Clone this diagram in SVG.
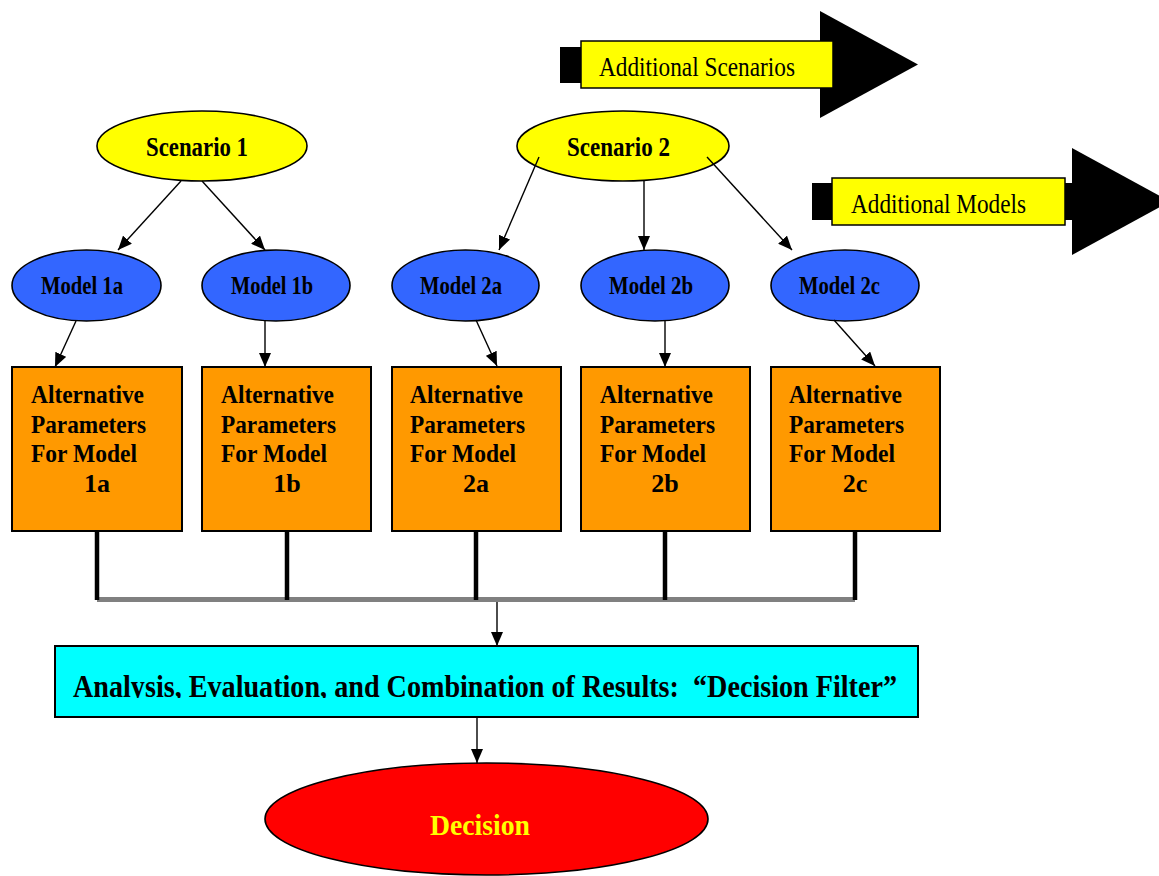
<svg xmlns="http://www.w3.org/2000/svg" width="1159" height="876" viewBox="0 0 1159 876">
  <style>
    .lbl { font-family: "Liberation Serif", "Times New Roman", serif; font-weight: bold; fill: #000; }
    .note { font-family: "Liberation Serif", "Times New Roman", serif; font-size: 27px; fill: #000; }
    .scen { fill: #FFFF00; stroke: #000; stroke-width: 1.6; }
    .model { fill: #3366FF; stroke: #000; stroke-width: 1.6; }
    .param { fill: #FF9900; stroke: #000; stroke-width: 2; }
    .edge { stroke: #000; stroke-width: 1.4; fill: none; marker-end: url(#head); }
    .stem { stroke: #000; stroke-width: 4.5; }
  </style>
  <defs>
    <marker id="head" viewBox="0 0 14 12" refX="14" refY="6" markerWidth="14" markerHeight="12" markerUnits="userSpaceOnUse" orient="auto">
      <path d="M0,0 L14,6 L0,12 z" fill="#000"/>
    </marker>
    <clipPath id="filterClip">
      <rect x="55" y="646" width="863" height="52"/>
    </clipPath>
  </defs>

  <rect width="1159" height="876" fill="#fff"/>

  <!-- block arrow: more scenarios -->
  <g id="more-scenarios">
    <rect x="560" y="47" width="270" height="36" fill="#000"/>
    <polygon points="820,11 918,64.5 820,118" fill="#000"/>
    <rect x="581" y="41" width="252" height="47" fill="#FFFF00" stroke="#000" stroke-width="1.5"/>
    <text class="note" x="599" y="76" textLength="196" lengthAdjust="spacingAndGlyphs">Additional Scenarios</text>
  </g>

  <!-- block arrow: more models -->
  <g id="more-models">
    <rect x="812" y="183" width="270" height="37" fill="#000"/>
    <polygon points="1072,148 1170,201.5 1072,255" fill="#000"/>
    <rect x="832" y="178" width="233" height="47" fill="#FFFF00" stroke="#000" stroke-width="1.5"/>
    <text class="note" x="851" y="213" textLength="175" lengthAdjust="spacingAndGlyphs">Additional Models</text>
  </g>

  <g id="scenario-1">
    <ellipse class="scen" cx="202" cy="146" rx="105" ry="35"/>
    <text class="lbl" x="146" y="156" font-size="27" textLength="102" lengthAdjust="spacingAndGlyphs">Scenario 1</text>
  </g>
  <g id="scenario-2">
    <ellipse class="scen" cx="623" cy="146" rx="106" ry="35"/>
    <text class="lbl" x="567" y="156" font-size="27" textLength="103" lengthAdjust="spacingAndGlyphs">Scenario 2</text>
  </g>

  <g id="model-1a">
    <ellipse class="model" cx="86.5" cy="285.5" rx="74.5" ry="35.5"/>
    <text class="lbl" x="41" y="294" font-size="25" textLength="82" lengthAdjust="spacingAndGlyphs">Model 1a</text>
  </g>
  <g id="model-1b">
    <ellipse class="model" cx="276" cy="285.5" rx="74" ry="35.5"/>
    <text class="lbl" x="231" y="294" font-size="25" textLength="82" lengthAdjust="spacingAndGlyphs">Model 1b</text>
  </g>
  <g id="model-2a">
    <ellipse class="model" cx="465.5" cy="285.5" rx="73.5" ry="35.5"/>
    <text class="lbl" x="420" y="294" font-size="25" textLength="82" lengthAdjust="spacingAndGlyphs">Model 2a</text>
  </g>
  <g id="model-2b">
    <ellipse class="model" cx="655" cy="285.5" rx="74" ry="35.5"/>
    <text class="lbl" x="609" y="294" font-size="25" textLength="84" lengthAdjust="spacingAndGlyphs">Model 2b</text>
  </g>
  <g id="model-2c">
    <ellipse class="model" cx="845" cy="285.5" rx="74" ry="35.5"/>
    <text class="lbl" x="799" y="294" font-size="25" textLength="81" lengthAdjust="spacingAndGlyphs">Model 2c</text>
  </g>

  <g id="params-1a">
    <rect class="param" x="12" y="367" width="170" height="164"/>
    <text class="lbl" font-size="26">
      <tspan x="31" y="403" textLength="113" lengthAdjust="spacingAndGlyphs">Alternative</tspan>
      <tspan x="31" y="432.5" textLength="115" lengthAdjust="spacingAndGlyphs">Parameters</tspan>
      <tspan x="31" y="462" textLength="106" lengthAdjust="spacingAndGlyphs">For Model</tspan>
      <tspan x="97" y="491.5" text-anchor="middle">1a</tspan>
    </text>
  </g>
  <g id="params-1b">
    <rect class="param" x="202" y="367" width="169" height="164"/>
    <text class="lbl" font-size="26">
      <tspan x="221" y="403" textLength="113" lengthAdjust="spacingAndGlyphs">Alternative</tspan>
      <tspan x="221" y="432.5" textLength="115" lengthAdjust="spacingAndGlyphs">Parameters</tspan>
      <tspan x="221" y="462" textLength="106" lengthAdjust="spacingAndGlyphs">For Model</tspan>
      <tspan x="287" y="491.5" text-anchor="middle">1b</tspan>
    </text>
  </g>
  <g id="params-2a">
    <rect class="param" x="392" y="367" width="169" height="164"/>
    <text class="lbl" font-size="26">
      <tspan x="410" y="403" textLength="113" lengthAdjust="spacingAndGlyphs">Alternative</tspan>
      <tspan x="410" y="432.5" textLength="115" lengthAdjust="spacingAndGlyphs">Parameters</tspan>
      <tspan x="410" y="462" textLength="106" lengthAdjust="spacingAndGlyphs">For Model</tspan>
      <tspan x="476" y="491.5" text-anchor="middle">2a</tspan>
    </text>
  </g>
  <g id="params-2b">
    <rect class="param" x="581" y="367" width="169" height="164"/>
    <text class="lbl" font-size="26">
      <tspan x="600" y="403" textLength="113" lengthAdjust="spacingAndGlyphs">Alternative</tspan>
      <tspan x="600" y="432.5" textLength="115" lengthAdjust="spacingAndGlyphs">Parameters</tspan>
      <tspan x="600" y="462" textLength="106" lengthAdjust="spacingAndGlyphs">For Model</tspan>
      <tspan x="665" y="491.5" text-anchor="middle">2b</tspan>
    </text>
  </g>
  <g id="params-2c">
    <rect class="param" x="771" y="367" width="169" height="164"/>
    <text class="lbl" font-size="26">
      <tspan x="789" y="403" textLength="113" lengthAdjust="spacingAndGlyphs">Alternative</tspan>
      <tspan x="789" y="432.5" textLength="115" lengthAdjust="spacingAndGlyphs">Parameters</tspan>
      <tspan x="789" y="462" textLength="106" lengthAdjust="spacingAndGlyphs">For Model</tspan>
      <tspan x="855" y="491.5" text-anchor="middle">2c</tspan>
    </text>
  </g>

  <g id="decision-filter">
    <rect x="55" y="646" width="863" height="71" fill="#00FFFF" stroke="#000" stroke-width="2"/>
    <text class="lbl" x="73" y="697" font-size="31" textLength="824" lengthAdjust="spacingAndGlyphs" clip-path="url(#filterClip)">Analysis, Evaluation, and Combination of Results:&#160; “Decision Filter”</text>
  </g>

  <g id="decision">
    <ellipse cx="486.5" cy="819" rx="221.5" ry="56" fill="#FF0000" stroke="#000" stroke-width="1.6"/>
    <text class="lbl" x="430" y="835" font-size="30" textLength="100" lengthAdjust="spacingAndGlyphs" style="fill:#FFFF00">Decision</text>
  </g>

  <g id="connectors">
    <!-- scenarios to models -->
    <line class="edge" x1="181" y1="181" x2="118" y2="250"/>
    <line class="edge" x1="202" y1="181" x2="265" y2="250"/>
    <line class="edge" x1="539" y1="157" x2="499" y2="250"/>
    <line class="edge" x1="644" y1="181" x2="644" y2="250"/>
    <line class="edge" x1="707" y1="157" x2="792" y2="250"/>
    <!-- models to parameter sets -->
    <line class="edge" x1="76" y1="321" x2="55" y2="367"/>
    <line class="edge" x1="265" y1="321" x2="265" y2="367"/>
    <line class="edge" x1="476" y1="320" x2="497" y2="366"/>
    <line class="edge" x1="665" y1="320" x2="665" y2="367"/>
    <line class="edge" x1="834" y1="320" x2="875" y2="366"/>
    <!-- collector bus -->
    <line x1="97" y1="599.5" x2="855" y2="599.5" stroke="#808080" stroke-width="5"/>
    <line class="stem" x1="97" y1="531" x2="97" y2="600"/>
    <line class="stem" x1="287" y1="531" x2="287" y2="600"/>
    <line class="stem" x1="476" y1="531" x2="476" y2="600"/>
    <line class="stem" x1="665" y1="531" x2="665" y2="600"/>
    <line class="stem" x1="855" y1="531" x2="855" y2="600"/>
    <line class="edge" x1="497" y1="602" x2="497" y2="646"/>
    <line class="edge" x1="477" y1="717" x2="477" y2="763"/>
  </g>
</svg>
